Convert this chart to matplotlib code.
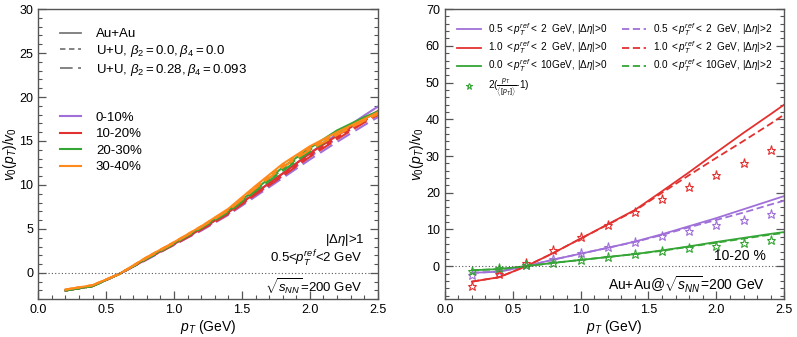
import matplotlib
matplotlib.use("Agg")
import matplotlib.pyplot as plt
from matplotlib.lines import Line2D
from matplotlib.ticker import MultipleLocator, FormatStrFormatter

plt.rcParams["font.family"] = ["Liberation Sans", "DejaVu Sans"]
plt.rcParams["mathtext.fontset"] = "custom"
plt.rcParams["mathtext.rm"] = "Liberation Sans"
plt.rcParams["mathtext.it"] = "Liberation Sans:italic"
plt.rcParams["mathtext.bf"] = "Liberation Sans:bold"

# ---- data ----
pt = [0.2, 0.4, 0.6, 0.8, 1.0, 1.2, 1.4, 1.6, 1.8, 2.0, 2.2, 2.4, 2.6]
pt_star = [0.2, 0.4, 0.6, 0.8, 1.0, 1.2, 1.4, 1.6, 1.8, 2.0, 2.2, 2.4]

centralities = ["0-10%", "10-20%", "20-30%", "30-40%"]
cent_colors = ["#a070d8", "#e3312f", "#35a535", "#ff8a1c"]

# left panel: v0(pT)/v0 per centrality, for Au+Au / U+U(undeformed) / U+U(deformed)
auau_0_10 = [-2.0, -1.5, -0.1, 1.6, 3.3, 5.0, 6.9, 9.1, 11.3, 13.6, 15.8, 17.9, 19.9]
uu0_0_10 = [-2.0, -1.5, -0.1, 1.6, 3.2, 4.9, 6.7, 8.9, 11.0, 13.2, 15.3, 17.3, 19.2]
uud_0_10 = [-2.0, -1.5, -0.1, 1.5, 3.2, 4.8, 6.6, 8.7, 10.8, 12.9, 14.9, 16.8, 18.6]
auau_10_20 = [-2.0, -1.5, -0.1, 1.6, 3.3, 5.0, 6.9, 9.1, 11.3, 13.6, 15.6, 17.5, 19.3]
uu0_10_20 = [-2.0, -1.5, -0.1, 1.6, 3.3, 5.0, 6.8, 9.0, 11.1, 13.4, 15.4, 17.3, 19.0]
uud_10_20 = [-2.0, -1.5, -0.1, 1.6, 3.2, 4.9, 6.7, 8.9, 11.0, 13.2, 15.2, 17.1, 18.8]
auau_20_30 = [-2.0, -1.5, -0.1, 1.7, 3.4, 5.2, 7.1, 9.5, 12.0, 14.2, 16.2, 17.7, 19.0]
uu0_20_30 = [-2.0, -1.5, -0.1, 1.7, 3.4, 5.1, 7.0, 9.4, 11.8, 14.0, 16.0, 17.6, 18.9]
uud_20_30 = [-2.0, -1.5, -0.1, 1.6, 3.3, 5.1, 6.9, 9.3, 11.6, 13.8, 15.8, 17.4, 18.7]
auau_30_40 = [-1.9, -1.4, -0.1, 1.8, 3.5, 5.3, 7.3, 9.9, 12.4, 14.4, 16.0, 17.5, 19.0]
uu0_30_40 = [-1.9, -1.4, -0.1, 1.8, 3.5, 5.3, 7.2, 9.7, 12.2, 14.2, 15.9, 17.4, 18.9]
uud_30_40 = [-1.9, -1.4, -0.1, 1.7, 3.4, 5.2, 7.1, 9.6, 12.0, 14.0, 15.7, 17.3, 18.8]

auau = [auau_0_10, auau_10_20, auau_20_30, auau_30_40]
uu_undef = [uu0_0_10, uu0_10_20, uu0_20_30, uu0_30_40]
uu_def = [uud_0_10, uud_10_20, uud_20_30, uud_30_40]

# right panel: 10-20% Au+Au, different reference pT ranges and eta gaps
ref_labels = [r"0.5 $<p_T^{ref}<$ 2  GeV", r"1.0 $<p_T^{ref}<$ 2  GeV", r"0.0 $<p_T^{ref}<$ 10GeV"]
ref_colors = ["#a070d8", "#e3312f", "#35a535"]
gap0_05_2 = [-1.8, -1.5, 0.0, 1.8, 3.4, 5.0, 6.7, 8.7, 10.9, 13.1, 15.5, 17.9, 20.3]
gap2_05_2 = [-1.8, -1.5, 0.0, 1.8, 3.4, 5.0, 6.6, 8.5, 10.6, 12.6, 14.6, 16.8, 18.9]
gap0_10_2 = [-4.2, -3.0, 0.0, 3.6, 7.5, 11.4, 15.3, 20.4, 25.6, 31.0, 36.3, 41.4, 46.6]
gap2_10_2 = [-4.2, -3.0, 0.0, 3.6, 7.5, 11.3, 15.1, 20.0, 24.8, 29.5, 34.1, 38.8, 43.8]
gap0_00_10 = [-1.1, -0.8, 0.0, 0.9, 1.7, 2.5, 3.3, 4.3, 5.4, 6.6, 7.7, 8.8, 9.8]
gap2_00_10 = [-1.1, -0.8, 0.0, 0.9, 1.7, 2.5, 3.3, 4.2, 5.3, 6.4, 7.5, 8.6, 9.5]
star_05_2 = [-2.3, -1.2, 0.3, 2.0, 3.5, 5.1, 6.7, 8.1, 9.5, 11.1, 12.5, 14.1]
star_10_2 = [-5.4, -2.1, 1.0, 4.5, 7.9, 11.2, 14.8, 18.2, 21.5, 24.9, 28.2, 31.6]
star_00_10 = [-1.2, -0.6, 0.2, 0.9, 1.8, 2.6, 3.4, 4.2, 5.0, 5.6, 6.4, 7.2]

gap0 = [gap0_05_2, gap0_10_2, gap0_00_10]
gap2 = [gap2_05_2, gap2_10_2, gap2_00_10]
stars = [star_05_2, star_10_2, star_00_10]

GRAY = "#7a7a7a"
SHORT_DASH = (0, (3, 2))
LONG_DASH = (0, (7, 3))
FS = 9.5


def style_axes(ax, ymajor, yminor):
    ax.xaxis.set_major_locator(MultipleLocator(0.5))
    ax.xaxis.set_minor_locator(MultipleLocator(0.1))
    ax.yaxis.set_major_locator(MultipleLocator(ymajor))
    ax.yaxis.set_minor_locator(MultipleLocator(yminor))
    ax.tick_params(which="both", direction="in", right=True, top=False, labelsize=9, color="#555555")
    ax.tick_params(which="major", length=6, width=0.9)
    ax.tick_params(which="minor", length=3, width=0.8)
    for sp in ax.spines.values():
        sp.set_color("#555555")
        sp.set_linewidth(1.0)
    ax.xaxis.set_major_formatter(FormatStrFormatter("%.1f"))
    ax.set_xlim(0, 2.5)
    ax.axhline(0, color="#555555", lw=0.8, ls=(0, (1, 2)))
    ax.set_xlabel(r"$p_T$ (GeV)", fontsize=10, labelpad=1)
    ax.set_ylabel(r"$v_0(p_T)/v_0$", fontsize=10, labelpad=0)


fig = plt.figure(figsize=(7.97, 3.37), dpi=100)
ax1 = fig.add_axes([0.048, 0.112, 0.426, 0.861])
ax2 = fig.add_axes([0.558, 0.112, 0.426, 0.861])

# ---- left panel ----
for col, a, u0, ud in zip(cent_colors, auau, uu_undef, uu_def):
    ax1.plot(pt, a, color=col, lw=1.5, ls="-")
    ax1.plot(pt, u0, color=col, lw=1.5, ls=SHORT_DASH)
    ax1.plot(pt, ud, color=col, lw=1.5, ls=LONG_DASH)
ax1.set_ylim(-3, 30)
style_axes(ax1, 5, 1)

sys_handles = [
    Line2D([], [], color=GRAY, lw=1.3, ls="-"),
    Line2D([], [], color=GRAY, lw=1.3, ls=SHORT_DASH),
    Line2D([], [], color=GRAY, lw=1.3, ls=LONG_DASH),
]
sys_labels = ["Au+Au", r"U+U, $\beta_2=0.0, \beta_4=0.0$", r"U+U, $\beta_2=0.28, \beta_4=0.093$"]
leg1 = ax1.legend(sys_handles, sys_labels, loc="upper left", bbox_to_anchor=(0.03, 0.975),
                  frameon=False, fontsize=FS, handlelength=1.6, handletextpad=1.1, labelspacing=0.2)
ax1.add_artist(leg1)
cent_handles = [Line2D([], [], color=c, lw=1.5) for c in cent_colors]
ax1.legend(cent_handles, centralities, loc="upper left", bbox_to_anchor=(0.03, 0.687),
           frameon=False, fontsize=FS, handlelength=1.6, handletextpad=1.1, labelspacing=0.32)

ax1.text(0.96, 0.203, r"|$\Delta\eta$|>1", transform=ax1.transAxes, ha="right", va="center", fontsize=FS)
ax1.text(0.955, 0.138, r"0.5<$p_T^{ref}$<2 GeV", transform=ax1.transAxes, ha="right", va="center", fontsize=FS)
ax1.text(0.955, 0.041, r"$\sqrt{s_{NN}}$=200 GeV", transform=ax1.transAxes, ha="right", va="center", fontsize=FS)

# ---- right panel ----
for col, g0, g2, st in zip(ref_colors, gap0, gap2, stars):
    ax2.plot(pt, g0, color=col, lw=1.3, ls="-")
    ax2.plot(pt, g2, color=col, lw=1.3, ls=(0, (4, 2)))
    ax2.plot(pt_star, st, ls="none", marker="*", ms=6.5, mfc="none", mec=col, mew=0.8)
ax2.set_ylim(-9, 70)
style_axes(ax2, 10, 2)

h_solid = [Line2D([], [], color=c, lw=1.3) for c in ref_colors]
h_dash = [Line2D([], [], color=c, lw=1.3, ls=(0, (4, 2))) for c in ref_colors]
h_star = Line2D([], [], ls="none", marker="*", ms=5, mfc="none", mec=ref_colors[2], mew=0.8)
labels_solid = [l + r", |$\Delta\eta$|>0" for l in ref_labels]
labels_dash = [l + r", |$\Delta\eta$|>2" for l in ref_labels]
handles = h_solid + [h_star] + h_dash
labels = labels_solid + [r"2($\frac{p_T}{\langle[p_T]\rangle}$-1)"] + labels_dash
ax2.legend(handles, labels, ncol=2, loc="upper left", bbox_to_anchor=(0.01, 0.99), frameon=False,
           fontsize=7.2, handlelength=2.4, handletextpad=0.7, labelspacing=0.15, columnspacing=1.4)

ax2.text(0.945, 0.148, "10-20 %", transform=ax2.transAxes, ha="right", va="center", fontsize=FS + 0.5)
ax2.text(0.945, 0.05, r"Au+Au@$\sqrt{s_{NN}}$=200 GeV", transform=ax2.transAxes, ha="right", va="center",
         fontsize=FS + 0.5)

fig.savefig("out.png", dpi=100)
